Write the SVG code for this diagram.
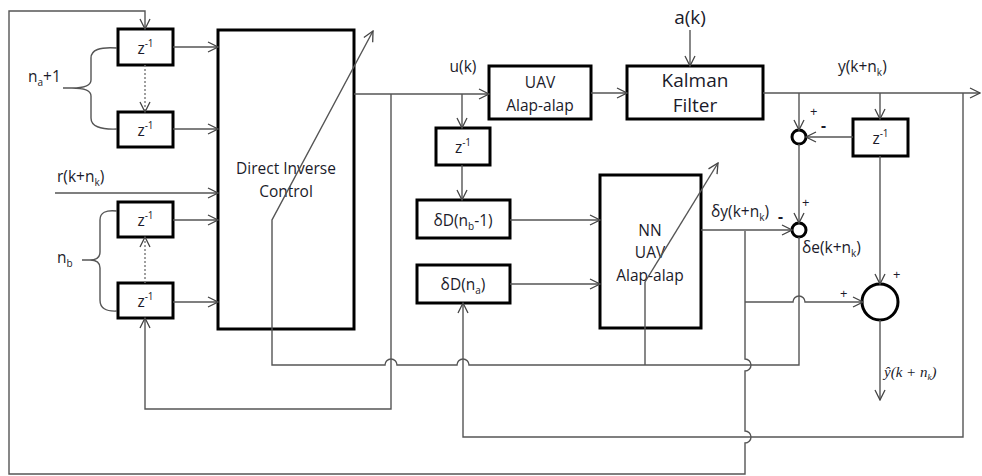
<svg xmlns="http://www.w3.org/2000/svg" width="982" height="476" viewBox="0 0 982 476">
<defs>
<marker id="ah" viewBox="0 0 12 12" refX="11" refY="6" markerWidth="12" markerHeight="12" markerUnits="userSpaceOnUse" orient="auto">
<path d="M1,1 L11,6 L1,11" fill="none" stroke="#444" stroke-width="1.3"/>
</marker>
</defs>
<style>
.box{fill:#fff;stroke:#000;stroke-width:3}
.ln{fill:none;stroke:#555;stroke-width:1.4}
.la{fill:none;stroke:#555;stroke-width:1.4;marker-end:url(#ah)}
.dot{fill:none;stroke:#777;stroke-width:1.4;stroke-dasharray:2,2;marker-end:url(#ah)}
text{font-family:"Open Sans","Liberation Sans",sans-serif;font-size:15.5px;fill:#1b1b2a}
.c{text-anchor:middle}
.big{font-size:19px}
.sm{font-size:13px}
.sub{font-size:10px}
.math{font-family:"Liberation Serif","DejaVu Serif",serif;font-style:italic;font-size:15px}
.sum{fill:#fff;stroke:#000;stroke-width:3}
</style>
<g id="za1"><rect class="box" x="118" y="29" width="55" height="36"/><text x="145.5" y="54" class="c">z<tspan class="sub" dy="-7">-1</tspan></text></g>
<g id="za2"><rect class="box" x="118" y="112" width="55" height="35"/><text x="145.5" y="136" class="c">z<tspan class="sub" dy="-7">-1</tspan></text></g>
<g id="zb1"><rect class="box" x="118" y="202" width="55" height="35"/><text x="145.5" y="226" class="c">z<tspan class="sub" dy="-7">-1</tspan></text></g>
<g id="zb2"><rect class="box" x="118" y="283" width="55" height="35"/><text x="145.5" y="307" class="c">z<tspan class="sub" dy="-7">-1</tspan></text></g>
<g id="dic"><rect class="box" x="218" y="30" width="136" height="299"/><text x="286" y="174" class="c">Direct Inverse</text><text x="286" y="197" class="c">Control</text></g>
<g id="uav"><rect class="box" x="489" y="66" width="102" height="53"/><text x="540" y="88" class="c">UAV</text><text x="540" y="111" class="c">Alap-alap</text></g>
<g id="kalman"><rect class="box" x="627" y="66" width="136" height="53"/><text x="695" y="87" class="c big">Kalman</text><text x="695" y="112" class="c big">Filter</text></g>
<g id="zu"><rect class="box" x="436" y="128" width="54" height="37"/><text x="463" y="153" class="c">z<tspan class="sub" dy="-7">-1</tspan></text></g>
<g id="dnb"><rect class="box" x="417" y="200" width="93" height="38"/><text x="463" y="226" class="c">δD(n<tspan class="sub" dy="4">b</tspan><tspan dy="-4">-1)</tspan></text></g>
<g id="dna"><rect class="box" x="417" y="265" width="93" height="38"/><text x="463" y="290" class="c">δD(n<tspan class="sub" dy="4">a</tspan><tspan dy="-4">)</tspan></text></g>
<g id="nn"><rect class="box" x="600" y="175" width="101" height="153"/><text x="650" y="236" class="c">NN</text><text x="650" y="258" class="c">UAV</text><text x="650" y="281" class="c">Alap-alap</text></g>
<g id="zy"><rect class="box" x="853" y="119" width="55" height="37"/><text x="880.5" y="144" class="c">z<tspan class="sub" dy="-7">-1</tspan></text></g>
<g id="c1"><circle class="sum" cx="799" cy="137" r="7"/></g>
<g id="c2"><circle class="sum" cx="799" cy="230" r="7"/></g>
<g id="sum"><circle class="sum" cx="880" cy="302" r="18"/></g>
<g id="connectors">
<path class="la" d="M745,231 L745,359 A6,6 0 0 1 745,371 L745,431 A6,6 0 0 1 745,443 L745,474 L9,474 L9,11 L145,11 L145,29"/>
<path class="la" d="M701,230 L792,230"/>
<path class="la" d="M745,302 L793,302 A6,6 0 0 1 805,302 L863,302"/>
<path class="la" d="M799,237 L799,365 L469,365 A6,6 0 0 0 457,365 L397,365 A6,6 0 0 0 385,365 L272,365 L272,220 L373,31"/>
<path class="ln" d="M645,365 L645,282"/>
<path class="la" d="M645,282 L718,163"/>
<path class="la" d="M354,94 L489,94"/>
<path class="la" d="M391,94 L391,409 L145,409 L145,318"/>
<path class="la" d="M462,94 L462,128"/>
<path class="la" d="M462,165 L462,200"/>
<path class="la" d="M510,220 L600,220"/>
<path class="la" d="M510,284 L600,284"/>
<path class="la" d="M963,93 L963,437 L463,437 L463,303"/>
<path class="la" d="M591,93 L627,93"/>
<path class="la" d="M690,30 L690,66"/>
<path class="la" d="M763,93 L980,93"/>
<path class="la" d="M799,93 L799,130"/>
<path class="la" d="M880,93 L880,119"/>
<path class="la" d="M853,137 L806,137"/>
<path class="la" d="M799,144 L799,223"/>
<path class="la" d="M880,156 L880,284"/>
<path class="la" d="M880,320 L880,400"/>
<path class="la" d="M173,47 L218,47"/>
<path class="la" d="M173,129 L218,129"/>
<path class="la" d="M55,193 L218,193"/>
<path class="la" d="M173,220 L218,220"/>
<path class="la" d="M173,302 L218,302"/>
<path class="dot" d="M145,65 L145,112"/>
<path class="dot" d="M145,283 L145,237"/>
<path class="ln" d="M117,48 Q91,46 91,58 L91,80 Q91,88 72,88 L63,88 M72,88 Q91,88 91,96 L91,118 Q91,130 117,129"/>
<path class="ln" d="M117,211 Q100,209 100,220 L100,252 Q100,260 90,260 L82,260 M90,260 Q100,260 100,268 L100,300 Q100,312 117,311"/>
</g>
<g id="labels">
<text x="28" y="82">n<tspan class="sub" dy="4">a</tspan><tspan dy="-4">+1</tspan></text>
<text x="57" y="182">r(k+n<tspan class="sub" dy="4">k</tspan><tspan dy="-4">)</tspan></text>
<text x="57" y="263">n<tspan class="sub" dy="4">b</tspan></text>
<text x="463" y="72" class="c">u(k)</text>
<text x="690" y="24" class="c big">a(k)</text>
<text x="838" y="72">y(k+n<tspan class="sub" dy="4">k</tspan><tspan dy="-4">)</tspan></text>
<text x="711" y="217">δy(k+n<tspan class="sub" dy="4">k</tspan><tspan dy="-4">)</tspan></text>
<text x="778" y="222" style="font-weight:bold">-</text>
<text x="810" y="116" class="sm">+</text>
<text x="821" y="131" style="font-weight:bold">-</text>
<text x="802" y="207" class="sm">+</text>
<text x="802" y="253">δe(k+n<tspan class="sub" dy="4">k</tspan><tspan dy="-4">)</tspan></text>
<text x="893" y="279" class="sm">+</text>
<text x="840" y="298" class="sm">+</text>
<text x="884" y="377" class="math">ŷ(k + n<tspan dy="3" font-size="9">k</tspan><tspan dy="-3">)</tspan></text>
</g>
</svg>
